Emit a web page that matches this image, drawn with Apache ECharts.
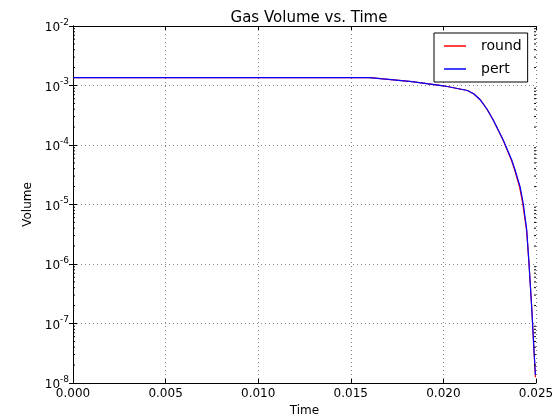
<!DOCTYPE html>
<html>
<head>
<meta charset="utf-8">
<script src="https://cdn.jsdelivr.net/npm/echarts@6/dist/echarts.min.js"></script>
<style>
  html, body { margin: 0; padding: 0; background: #fff; }
  #chart { width: 560px; height: 417px; }
</style>
</head>
<body>
<div id="chart"></div>
<script>
// Gas volume over time for the two runs
const timePert = [0, 0.0160, 0.0166, 0.0183, 0.0200, 0.0213, 0.02165, 0.0220, 0.02235, 0.02269, 0.02323, 0.02369, 0.02387, 0.02414, 0.02431, 0.02450, 0.02462, 0.02477, 0.02489, 0.02497];
const volPert  = [1.361e-3, 1.361e-3, 1.303e-3, 1.159e-3, 9.89e-4, 8.24e-4, 7.19e-4, 5.70e-4, 4.03e-4, 2.63e-4, 1.21e-4, 5.60e-5, 3.80e-5, 1.99e-5, 1.05e-5, 3.72e-6, 1.04e-6, 1.82e-7, 3.59e-8, 1.36e-8];

const timeRound = [0, 0.0160, 0.0166, 0.0183, 0.0200, 0.0213, 0.02165, 0.0220, 0.02235, 0.02269, 0.02322, 0.02367, 0.02385, 0.02411, 0.02428, 0.02449, 0.02462, 0.02477, 0.02489, 0.02497];
const volRound  = [1.361e-3, 1.361e-3, 1.303e-3, 1.159e-3, 9.89e-4, 8.24e-4, 7.19e-4, 5.70e-4, 4.03e-4, 2.63e-4, 1.21e-4, 5.60e-5, 3.80e-5, 1.99e-5, 1.05e-5, 3.72e-6, 1.04e-6, 1.82e-7, 3.59e-8, 1.25e-8];

const xTicks = [0, 0.005, 0.010, 0.015, 0.020, 0.025];
const yMin = 1e-8, yMax = 1e-2;

// minor tick values for the log axis: 2..9 within each decade
const minorVals = [];
for (let e = -8; e < -2; e++) {
  for (let k = 2; k <= 9; k++) minorVals.push(k * Math.pow(10, e));
}

const FONT = 'DejaVu Sans';
const chart = echarts.init(document.getElementById('chart'), null, { renderer: 'canvas' });

const pair = (xs, ys) => xs.map((x, i) => [x, ys[i]]);

const axisLineStyle = { color: '#000', width: 1 };

chart.setOption({
  animation: false,
  title: {
    text: 'Gas Volume vs. Time',
    left: 304, top: 6, textAlign: 'center',
    textStyle: { fontFamily: FONT, fontSize: 15, fontWeight: 'normal', color: '#000' }
  },
  legend: {
    left: 434, top: 33,
    orient: 'vertical',
    padding: [5, 6, 5, 10],
    itemWidth: 22, itemHeight: 1.5, itemGap: 7,
    borderColor: '#000', borderWidth: 1,
    backgroundColor: '#fff',
    textStyle: { fontFamily: FONT, fontSize: 14, color: '#000', lineHeight: 16, padding: [0, 0, 0, 10] },
    data: [
      { name: 'round', icon: 'rect' },
      { name: 'pert', icon: 'rect' }
    ]
  },
  grid: { left: 73, top: 26, right: 24, bottom: 34, outerBoundsMode: 'none', containLabel: false },
  xAxis: [{
    type: 'value', min: 0, max: 0.025, interval: 0.005,
    name: 'Time', nameLocation: 'middle', nameGap: 22,
    nameTextStyle: { fontFamily: FONT, fontSize: 12, color: '#000' },
    axisLine: { show: true, lineStyle: axisLineStyle },
    axisTick: { show: true, inside: true, length: 4, lineStyle: { color: '#000' } },
    axisLabel: { fontFamily: FONT, fontSize: 12, color: '#000', margin: 5,
                 formatter: v => v.toFixed(3), showMinLabel: true, showMaxLabel: true },
    splitLine: { show: true, lineStyle: { color: '#888', type: [1, 3], width: 1 } }
  }, {
    type: 'value', min: 0, max: 0.025, interval: 0.005, position: 'top',
    axisLine: { show: true, lineStyle: axisLineStyle },
    axisTick: { show: true, inside: true, length: 4, lineStyle: { color: '#000' } },
    axisLabel: { show: false }, splitLine: { show: false }
  }],
  yAxis: [{
    type: 'log', logBase: 10, min: yMin, max: yMax,
    name: 'Volume', nameLocation: 'middle', nameGap: 34, nameRotate: 90,
    nameTextStyle: { fontFamily: FONT, fontSize: 12, color: '#000' },
    axisLine: { show: true, lineStyle: axisLineStyle },
    axisTick: { show: true, inside: true, length: 4, lineStyle: { color: '#000' } },
    axisLabel: {
      margin: 4, showMinLabel: true, showMaxLabel: true,
      formatter: v => '{b|10}{s|' + Math.round(Math.log10(v)) + '}',
      rich: {
        b: { fontFamily: FONT, fontSize: 12, color: '#000', lineHeight: 16, verticalAlign: 'bottom' },
        s: { fontFamily: FONT, fontSize: 9, color: '#000', lineHeight: 16, verticalAlign: 'top' }
      }
    },
    splitLine: { show: true, lineStyle: { color: '#888', type: [1, 3], width: 1 } }
  }, {
    type: 'log', logBase: 10, min: yMin, max: yMax, position: 'right',
    axisLine: { show: true, lineStyle: axisLineStyle },
    axisTick: { show: true, inside: true, length: 4, lineStyle: { color: '#000' } },
    axisLabel: { show: false }, splitLine: { show: false }
  }],
  series: [
    {
      name: 'round', type: 'line', xAxisIndex: 0, yAxisIndex: 0,
      data: pair(timeRound, volRound),
      showSymbol: false, symbol: 'none',
      lineStyle: { color: '#ff0000', width: 1.2 }, itemStyle: { color: '#ff0000' }
    },
    {
      name: 'pert', type: 'line', xAxisIndex: 0, yAxisIndex: 0,
      data: pair(timePert, volPert),
      showSymbol: false, symbol: 'none',
      lineStyle: { color: '#0000ff', width: 1.2 }, itemStyle: { color: '#0000ff' }
    },
    {
      // minor ticks on the left and right edges of the log axis
      type: 'custom', xAxisIndex: 0, yAxisIndex: 0, silent: true, z: 5,
      data: minorVals.map(v => [0, v]),
      renderItem: (params, api) => {
        const cs = params.coordSys;
        const y = api.coord([0, api.value(1)])[1];
        return {
          type: 'group',
          children: [
            { type: 'line', shape: { x1: cs.x, y1: y, x2: cs.x + 2, y2: y }, style: { stroke: '#000', lineWidth: 1 } },
            { type: 'line', shape: { x1: cs.x + cs.width - 2, y1: y, x2: cs.x + cs.width, y2: y }, style: { stroke: '#000', lineWidth: 1 } }
          ]
        };
      }
    }
  ]
});
</script>
</body>
</html>
